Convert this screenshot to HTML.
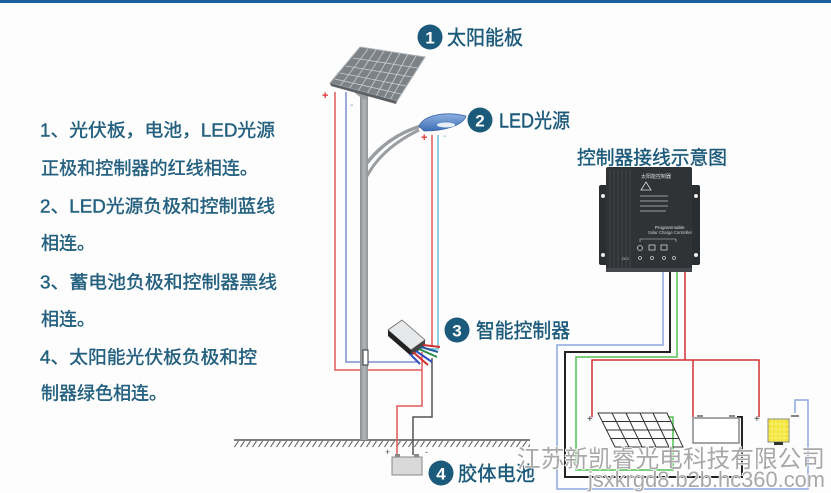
<!DOCTYPE html>
<html><head><meta charset="utf-8"><style>
html,body{margin:0;padding:0;background:#fdfdfd;}
svg{display:block;}
.t{font-family:"Liberation Sans","Noto Sans CJK SC",sans-serif;fill:#24607f;stroke:#24607f;stroke-width:0.4;font-size:18px;}
.lb{font-family:"Liberation Sans","Noto Sans CJK SC",sans-serif;fill:#1c5a7a;stroke:#1c5a7a;stroke-width:0.4;font-size:20px;}
.wm{font-family:"Liberation Sans","Noto Sans CJK SC",sans-serif;fill:#a8a8a8;stroke:#fff;stroke-width:1.5;paint-order:stroke;}
</style></head><body>
<svg width="831" height="493" viewBox="0 0 831 493" xmlns="http://www.w3.org/2000/svg">
<defs>
<pattern id="hatch" x="0" y="0" width="6" height="8" patternUnits="userSpaceOnUse">
<line x1="0.5" y1="7" x2="4.5" y2="1" stroke="#555" stroke-width="1"/>
</pattern>
<linearGradient id="pole" x1="0" x2="1" y1="0" y2="0">
<stop offset="0" stop-color="#8a8d90"/><stop offset="0.5" stop-color="#b4b7ba"/><stop offset="1" stop-color="#8f9295"/>
</linearGradient>
<linearGradient id="lamp" x1="0" x2="0" y1="0" y2="1">
<stop offset="0" stop-color="#8fb1e0"/><stop offset="1" stop-color="#3c6db4"/>
</linearGradient>
</defs>
<rect x="0" y="0" width="831" height="493" fill="#fdfdfd"/>
<rect x="0" y="0" width="831" height="3" fill="#1d5f9e"/>

<!-- left text -->
<text class="t" x="40" y="136.5" textLength="235" lengthAdjust="spacingAndGlyphs">1、光伏板，电池，LED光源</text>
<text class="t" x="41" y="174.5" textLength="217" lengthAdjust="spacingAndGlyphs">正极和控制器的红线相连。</text>
<text class="t" x="40" y="212.5" textLength="235" lengthAdjust="spacingAndGlyphs">2、LED光源负极和控制蓝线</text>
<text class="t" x="41" y="249.5">相连。</text>
<text class="t" x="40" y="288.5" textLength="237" lengthAdjust="spacingAndGlyphs">3、蓄电池负极和控制器黑线</text>
<text class="t" x="41" y="325.5">相连。</text>
<text class="t" x="40" y="363.5" textLength="217" lengthAdjust="spacingAndGlyphs">4、太阳能光伏板负极和控</text>
<text class="t" x="41" y="399.5">制器绿色相连。</text>

<!-- ground -->
<rect x="234" y="440" width="296" height="8" fill="url(#hatch)"/>
<line x1="234" y1="440" x2="530" y2="440" stroke="#555" stroke-width="1.5"/>

<!-- wires on pole -->
<g fill="none" stroke-width="1.5">
<polyline points="335,92 335,370 422,370" stroke="#e05a5a"/>
<polyline points="422,352 422,406 397,406 397,455" stroke="#e05a5a"/>
<polyline points="346,92 346,362 417,362" stroke="#7f8fd0"/>
<polyline points="432,135 432,347" stroke="#e05a5a"/>
<polyline points="438,135 438,349 428,349" stroke="#6cc0d8"/>
<polyline points="432,358 432,417 413,417 413,455" stroke="#555"/>
</g>

<!-- pole -->
<rect x="360" y="95" width="8" height="345" fill="url(#pole)"/>
<path d="M367,163 Q388,136 421,126" stroke="#9a9da0" stroke-width="3.5" fill="none"/>
<path d="M367,176 Q382,148 419,130" stroke="#9a9da0" stroke-width="3" fill="none"/>
<path d="M355,93 L364,100 L373,92 L370,90 L364,96 L358,90 Z" fill="#9a9da0"/>
<!-- lamp -->
<path d="M419,126 C424,115 445,111 466,116 C463,125 446,131 424,131 Z" fill="url(#lamp)" stroke="#3a64a6" stroke-width="0.8"/>
<ellipse cx="446" cy="125" rx="9" ry="2.5" fill="#e8eef5"/>
<!-- solar panel -->
<polygon points="360,47 425,57 397,101 330,83" fill="#7d8287" stroke="#aab0b5" stroke-width="1"/>
<g stroke="#c9cdd1" stroke-width="0.8">
<line x1="368" y1="49" x2="340" y2="86"/>
<line x1="376" y1="50" x2="349" y2="89"/>
<line x1="384" y1="51" x2="358" y2="91"/>
<line x1="392" y1="52" x2="367" y2="94"/>
<line x1="400" y1="53" x2="376" y2="96"/>
<line x1="408" y1="54" x2="384" y2="98"/>
<line x1="416" y1="56" x2="390" y2="100"/>
<line x1="353" y1="58" x2="418" y2="68"/>
<line x1="346" y1="66" x2="412" y2="77"/>
<line x1="340" y1="73" x2="406" y2="86"/>
<line x1="335" y1="79" x2="401" y2="94"/>
</g>
<polygon points="330,83 397,101 396,104 331,86" fill="#5d6166"/>
<!-- +/- -->
<text x="322" y="99" font-family="Liberation Sans" font-size="11" font-weight="bold" fill="#e03030">+</text>
<text x="350" y="108" font-family="Liberation Sans" font-size="10" fill="#7f8fd0">-</text>
<text x="421" y="141" font-family="Liberation Sans" font-size="11" font-weight="bold" fill="#e03030">+</text>
<text x="443" y="139" font-family="Liberation Sans" font-size="10" fill="#6cc0d8">-</text>

<!-- small bracket on pole -->
<rect x="363" y="350" width="5" height="15" fill="#fff" stroke="#333" stroke-width="1"/>

<!-- small controller -->
<g>
<polygon points="388,330 402,320 425,340 411,350" fill="#e6e8ea" stroke="#666" stroke-width="0.8"/>
<polygon points="388,330 411,350 411,356 388,336" fill="#222"/>
<polygon points="411,350 425,340 425,346 411,356" fill="#444"/>
<g stroke-width="2" fill="none">
<path d="M413,352 L428,365" stroke="#d03030"/>
<path d="M416,351 L432,362" stroke="#3050c0"/>
<path d="M419,349 L437,357" stroke="#2a8a4a"/>
<path d="M421,347 L438,352" stroke="#2060a0"/>
<path d="M410,354 L420,364" stroke="#3050c0"/>
<path d="M423,345 L440,347" stroke="#d03030"/>
</g>
</g>

<!-- pole battery -->
<rect x="392" y="457" width="30" height="18" fill="#d9d9d9" stroke="#888" stroke-width="1"/>
<rect x="395" y="454" width="5" height="3" fill="#888"/>
<rect x="414" y="454" width="5" height="3" fill="#888"/>
<text x="385" y="455" font-family="Liberation Sans" font-size="9" fill="#555">+</text>
<text x="425" y="455" font-family="Liberation Sans" font-size="9" fill="#555">-</text>

<!-- labels -->
<circle cx="430" cy="37" r="12.5" fill="#1c5a7c"/>
<text x="430" y="43.5" text-anchor="middle" font-family="Liberation Sans" font-weight="bold" font-size="17" fill="#fff">1</text>
<text class="lb" x="447" y="44.5" textLength="76" lengthAdjust="spacingAndGlyphs">太阳能板</text>
<circle cx="480" cy="120" r="12.5" fill="#1c5a7c"/>
<text x="480" y="126.5" text-anchor="middle" font-family="Liberation Sans" font-weight="bold" font-size="17" fill="#fff">2</text>
<text class="lb" x="499" y="127.5" textLength="71" lengthAdjust="spacingAndGlyphs">LED光源</text>
<circle cx="457" cy="330" r="12.5" fill="#1c5a7c"/>
<text x="457" y="336.5" text-anchor="middle" font-family="Liberation Sans" font-weight="bold" font-size="17" fill="#fff">3</text>
<text class="lb" x="476" y="337.5" textLength="94" lengthAdjust="spacingAndGlyphs">智能控制器</text>
<circle cx="441" cy="473" r="12.5" fill="#1c5a7c"/>
<text x="441" y="479.5" text-anchor="middle" font-family="Liberation Sans" font-weight="bold" font-size="17" fill="#fff">4</text>
<text class="lb" x="458" y="480.5" textLength="77" lengthAdjust="spacingAndGlyphs">胶体电池</text>
<text class="lb" x="577" y="164" textLength="150" lengthAdjust="spacingAndGlyphs" style="font-size:19px">控制器接线示意图</text>

<!-- big controller -->
<rect x="599" y="185" width="101" height="80" rx="2" fill="#2b2e31"/>
<circle cx="603" cy="196" r="2" fill="#eee"/><circle cx="603" cy="255" r="2" fill="#eee"/>
<circle cx="696" cy="196" r="2" fill="#eee"/><circle cx="696" cy="255" r="2" fill="#eee"/>
<rect x="606" y="167" width="86" height="105" rx="2" fill="#303336"/>
<g stroke="#43474b" stroke-width="1">
<line x1="610" y1="170" x2="610" y2="268"/><line x1="614" y1="170" x2="614" y2="268"/>
<line x1="618" y1="170" x2="618" y2="268"/><line x1="622" y1="170" x2="622" y2="268"/>
<line x1="626" y1="170" x2="626" y2="268"/><line x1="630" y1="170" x2="630" y2="268"/>
</g>
<text x="641" y="178" font-family="Noto Sans CJK SC" font-size="5" fill="#ddd">太阳能控制器</text>
<polygon points="646,182 651,190 641,190" fill="none" stroke="#ddd" stroke-width="0.8"/>
<g stroke="#9a9da0" stroke-width="1">
<line x1="640" y1="196" x2="668" y2="196"/><line x1="640" y1="201" x2="668" y2="201"/>
<line x1="640" y1="206" x2="668" y2="206"/><line x1="640" y1="211" x2="666" y2="211"/>
</g>
<text x="655" y="229" font-family="Liberation Sans" font-size="4.5" fill="#ddd">Programmable</text>
<text x="648" y="234" font-family="Liberation Sans" font-size="4.2" fill="#ccc">Solar Charge Controller</text>
<polyline points="640,242 640,239 676,239 676,242" fill="none" stroke="#ccc" stroke-width="0.6"/>
<g fill="none" stroke="#ccc" stroke-width="0.8">
<circle cx="640" cy="248" r="2.5"/><rect x="649" y="245" width="6" height="5"/><rect x="661" y="245" width="6" height="5"/>
<circle cx="640" cy="258" r="1.5"/><circle cx="652" cy="258" r="1.5"/><circle cx="664" cy="258" r="1.5"/><circle cx="674" cy="258" r="1.5"/>
</g>
<text x="622" y="260" font-family="Liberation Sans" font-size="3.5" fill="#ccc">DC1</text>
<rect x="606" y="268" width="86" height="4" fill="#45494d"/>

<!-- bottom right wiring -->
<g fill="none" stroke-width="1.5">
<polyline points="663,272 663,345 557,345 557,489 808,489 808,400 795,400 795,413" stroke="#8fa8e0"/>
<polyline points="670,272 670,352 565,352 565,477 742,477 742,417 737,417" stroke="#222" stroke-width="2"/>
<polyline points="677,272 677,357 576,357 576,470 673,470 673,417 668,417" stroke="#52c052"/>
<polyline points="685,272 685,360" stroke="#d03030"/>
<polyline points="592,417 592,360 759,360 759,417" stroke="#d03030"/>
<polyline points="693,360 693,417" stroke="#d03030"/>
</g>
<text x="587" y="422" font-family="Liberation Sans" font-size="10" fill="#333">+</text>
<text x="754" y="422" font-family="Liberation Sans" font-size="10" fill="#333">+</text>
<line x1="791" y1="416" x2="799" y2="416" stroke="#333" stroke-width="1.2"/>
<!-- small solar panel -->
<g fill="none" stroke="#333" stroke-width="1">
<polygon points="598,413 667,413 683,447 615,447"/>
<line x1="602" y1="421.5" x2="671" y2="421.5"/>
<line x1="606" y1="430" x2="675" y2="430"/>
<line x1="611" y1="438.5" x2="679" y2="438.5"/>
<line x1="612" y1="413" x2="629" y2="447"/>
<line x1="626" y1="413" x2="642" y2="447"/>
<line x1="640" y1="413" x2="656" y2="447"/>
<line x1="653" y1="413" x2="669" y2="447"/>
</g>
<!-- battery -->
<rect x="693" y="418" width="46" height="25" fill="#fff" stroke="#888" stroke-width="1.5"/>
<line x1="697" y1="416" x2="703" y2="416" stroke="#666" stroke-width="1.5"/>
<line x1="729" y1="416" x2="735" y2="416" stroke="#666" stroke-width="1.5"/>
<!-- LED -->
<rect x="768" y="419" width="21" height="23" fill="#f2e63a" stroke="#888" stroke-width="1"/>
<g stroke="#fff8a0" stroke-width="0.5">
<line x1="772" y1="419" x2="772" y2="442"/><line x1="776" y1="419" x2="776" y2="442"/>
<line x1="780" y1="419" x2="780" y2="442"/><line x1="784" y1="419" x2="784" y2="442"/>
<line x1="768" y1="424" x2="789" y2="424"/><line x1="768" y1="429" x2="789" y2="429"/>
<line x1="768" y1="434" x2="789" y2="434"/><line x1="768" y1="438" x2="789" y2="438"/>
</g>
<rect x="774" y="442" width="9" height="3" fill="#333"/>

<!-- watermark -->
<text class="wm" x="517" y="467" font-size="24" textLength="308" lengthAdjust="spacingAndGlyphs">江苏新凯睿光电科技有限公司</text>
<text class="wm" x="588" y="487" font-size="22" textLength="237" lengthAdjust="spacingAndGlyphs">jsxkrgd8.b2b.hc360.com</text>
</svg>
</body></html>
